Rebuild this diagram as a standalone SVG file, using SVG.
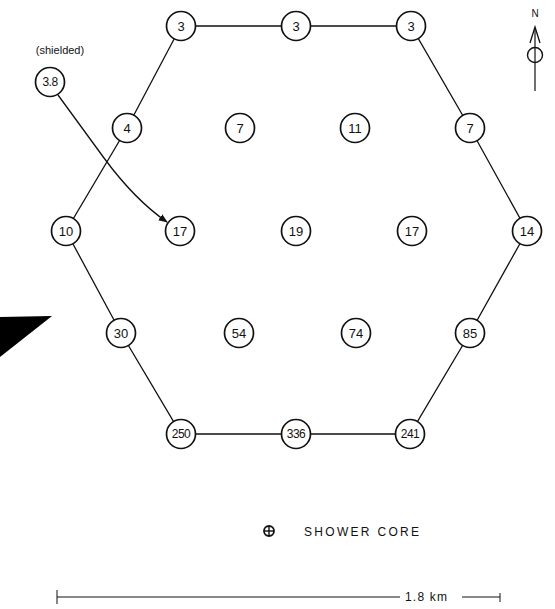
<svg xmlns="http://www.w3.org/2000/svg" width="555" height="609" viewBox="0 0 555 609">
<style>
.n circle{fill:#fff;stroke:#111;stroke-width:1.7}
.n text,.t{font-family:"Liberation Sans",Arial,sans-serif;fill:#111}
.n text{font-size:13px;text-anchor:middle;dominant-baseline:central}
.n text.s{font-size:12px;letter-spacing:-0.5px}
.e{fill:none;stroke:#111;stroke-width:1.3}
</style>
<defs>
<marker id="ah" viewBox="0 0 10 10" refX="9" refY="5" markerWidth="7" markerHeight="7" orient="auto"><path d="M0,1 L10,5 L0,9 z" fill="#111"/></marker>
</defs>
<rect width="555" height="609" fill="#fff"/>
<polygon points="0,317 52,316 0,357" fill="#000"/>
<g id="connectors">
<polyline class="e" points="181,26 296,26 411,26 470,128 527,231 470,333 410,434 296,434 181,434 121,333 66,231 127,128 181,26"/>
<path class="e" d="M58,95 L104,158 Q135,200 167,222" marker-end="url(#ah)"/>
</g>
<g id="n1" class="n"><circle cx="181" cy="26" r="14.5"/><text x="181" y="26">3</text></g>
<g id="n2" class="n"><circle cx="296" cy="26" r="14.5"/><text x="296" y="26">3</text></g>
<g id="n3" class="n"><circle cx="411" cy="26" r="14.5"/><text x="411" y="26">3</text></g>
<g id="n4" class="n"><circle cx="127" cy="128" r="14.5"/><text x="127" y="128">4</text></g>
<g id="n5" class="n"><circle cx="240" cy="128" r="14.5"/><text x="240" y="128">7</text></g>
<g id="n6" class="n"><circle cx="355" cy="128" r="14.5"/><text x="355" y="128">11</text></g>
<g id="n7" class="n"><circle cx="470" cy="128" r="14.5"/><text x="470" y="128">7</text></g>
<g id="n8" class="n"><circle cx="66" cy="231" r="14.5"/><text x="66" y="231">10</text></g>
<g id="n9" class="n"><circle cx="180" cy="231" r="14.5"/><text x="180" y="231">17</text></g>
<g id="n10" class="n"><circle cx="296" cy="231" r="14.5"/><text x="296" y="231">19</text></g>
<g id="n11" class="n"><circle cx="412" cy="231" r="14.5"/><text x="412" y="231">17</text></g>
<g id="n12" class="n"><circle cx="527" cy="231" r="14.5"/><text x="527" y="231">14</text></g>
<g id="n13" class="n"><circle cx="121" cy="333" r="14.5"/><text x="121" y="333">30</text></g>
<g id="n14" class="n"><circle cx="239" cy="333" r="14.5"/><text x="239" y="333">54</text></g>
<g id="n15" class="n"><circle cx="356" cy="333" r="14.5"/><text x="356" y="333">74</text></g>
<g id="n16" class="n"><circle cx="470" cy="333" r="14.5"/><text x="470" y="333">85</text></g>
<g id="n17" class="n"><circle cx="181" cy="434" r="14.5"/><text class="s" x="181" y="434">250</text></g>
<g id="n18" class="n"><circle cx="296" cy="434" r="14.5"/><text class="s" x="296" y="434">336</text></g>
<g id="n19" class="n"><circle cx="410" cy="434" r="14.5"/><text class="s" x="410" y="434">241</text></g>
<g id="n20" class="n"><circle cx="50" cy="82" r="14.5"/><text class="s" x="50" y="82">3.8</text></g>
<text class="t" x="60" y="54" font-size="11" text-anchor="middle">(shielded)</text>
<g id="north">
<text class="t" x="535" y="17" font-size="10" text-anchor="middle">N</text>
<path d="M530,43 L535,27 L540,43" fill="none" stroke="#111" stroke-width="1.3"/>
<circle cx="535" cy="55" r="7.5" fill="none" stroke="#111" stroke-width="1.4"/>
<line x1="535" y1="28" x2="535" y2="91" stroke="#111" stroke-width="1.2"/>
</g>
<g id="legend">
<circle cx="269" cy="531" r="5" fill="none" stroke="#111" stroke-width="1.8"/>
<line x1="264" y1="531" x2="274" y2="531" stroke="#111" stroke-width="1.4"/>
<line x1="269" y1="526" x2="269" y2="536" stroke="#111" stroke-width="1.4"/>
<text class="t" x="304" y="536" font-size="12" letter-spacing="2.3">SHOWER CORE</text>
</g>
<g id="scale">
<line x1="57" y1="597" x2="400" y2="597" stroke="#111" stroke-width="1"/>
<line x1="462" y1="597" x2="500" y2="597" stroke="#111" stroke-width="1"/>
<line x1="57" y1="590" x2="57" y2="604" stroke="#111" stroke-width="1"/>
<line x1="500" y1="593" x2="500" y2="602" stroke="#111" stroke-width="1"/>
<text class="t" x="405" y="601" font-size="12" letter-spacing="1.2">1.8 km</text>
</g>
</svg>
